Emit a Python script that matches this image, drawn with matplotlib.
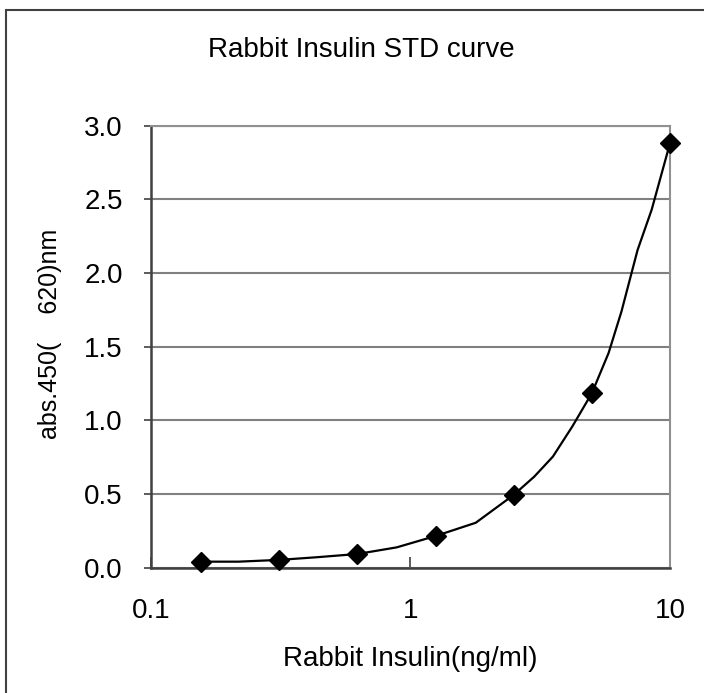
import matplotlib
matplotlib.use("Agg")
import matplotlib.pyplot as plt
from matplotlib.patches import Rectangle
from matplotlib.ticker import FixedLocator, NullLocator

# standard concentrations (ng/ml) and measured absorbance
conc = [0.156, 0.3125, 0.625, 1.25, 2.5, 5, 10]
absorb = [0.041, 0.053, 0.093, 0.215, 0.494, 1.184, 2.881]

# fitted curve
fit_x = [0.156, 0.218, 0.3125, 0.436, 0.625, 0.886, 1.25, 1.786, 2.5,
         3.0, 3.54, 4.2, 5, 5.8, 6.5, 7.5, 8.5, 10]
fit_y = [0.041, 0.041, 0.053, 0.071, 0.093, 0.138, 0.215, 0.305, 0.494,
         0.618, 0.754, 0.957, 1.184, 1.457, 1.738, 2.156, 2.43, 2.881]

x_ticks = [0.1, 1, 10]
x_tick_labels = ["0.1", "1", "10"]
y_ticks = [0.0, 0.5, 1.0, 1.5, 2.0, 2.5, 3.0]

plt.rcParams['font.family'] = ['Liberation Sans', 'DejaVu Sans']

fig = plt.figure(figsize=(7.04, 6.93), dpi=100)
ax = fig.add_axes([150.7 / 704, 1 - 567.7 / 693, (670 - 150.7) / 704, (567.7 - 125.7) / 693])

# outer frame of the chart area
fig.patches.append(Rectangle((6 / 704, -0.1), 1.2, 1.1 - 10 / 693,
                             transform=fig.transFigure, fill=False,
                             edgecolor='#404040', linewidth=1.5))

ax.plot(fit_x, fit_y, color='black', linewidth=1.6, zorder=3)
ax.plot(conc, absorb, linestyle='none', marker='D', markersize=10.5,
        color='black', zorder=4, clip_on=False)

ax.set_xscale('log')
ax.set_xlim(0.1, 10)
ax.set_ylim(0, 3.0)
ax.xaxis.set_major_locator(FixedLocator(x_ticks))
ax.xaxis.set_minor_locator(NullLocator())
ax.set_xticklabels(x_tick_labels)
ax.set_yticks(y_ticks)
ax.set_yticklabels([f"{v:.1f}" for v in y_ticks])

ax.grid(axis='y', color='#808080', linewidth=1.5)
ax.set_axisbelow(True)
ax.tick_params(axis='x', direction='in', length=8, width=1.2, color='#404040',
               pad=22, labelsize=20)
ax.tick_params(axis='y', direction='out', length=5, width=1.2, color='#404040',
               pad=15, labelsize=20)

for side in ['top', 'right']:
    ax.spines[side].set_color('#909090')
    ax.spines[side].set_linewidth(1.5)
for side in ['left', 'bottom']:
    ax.spines[side].set_color('#404040')
    ax.spines[side].set_linewidth(1.8)

fig.text(361 / 704, 1 - 50 / 693, "Rabbit Insulin STD curve", ha='center',
         va='center', fontsize=20)
ax.set_xlabel("Rabbit Insulin(ng/ml)", fontsize=20, labelpad=16)
fig.text(50 / 704, 1 - 334 / 693, "abs.450(    620)nm", rotation=90,
         ha='center', va='center', fontsize=18)

fig.savefig("out.png", dpi=100)
